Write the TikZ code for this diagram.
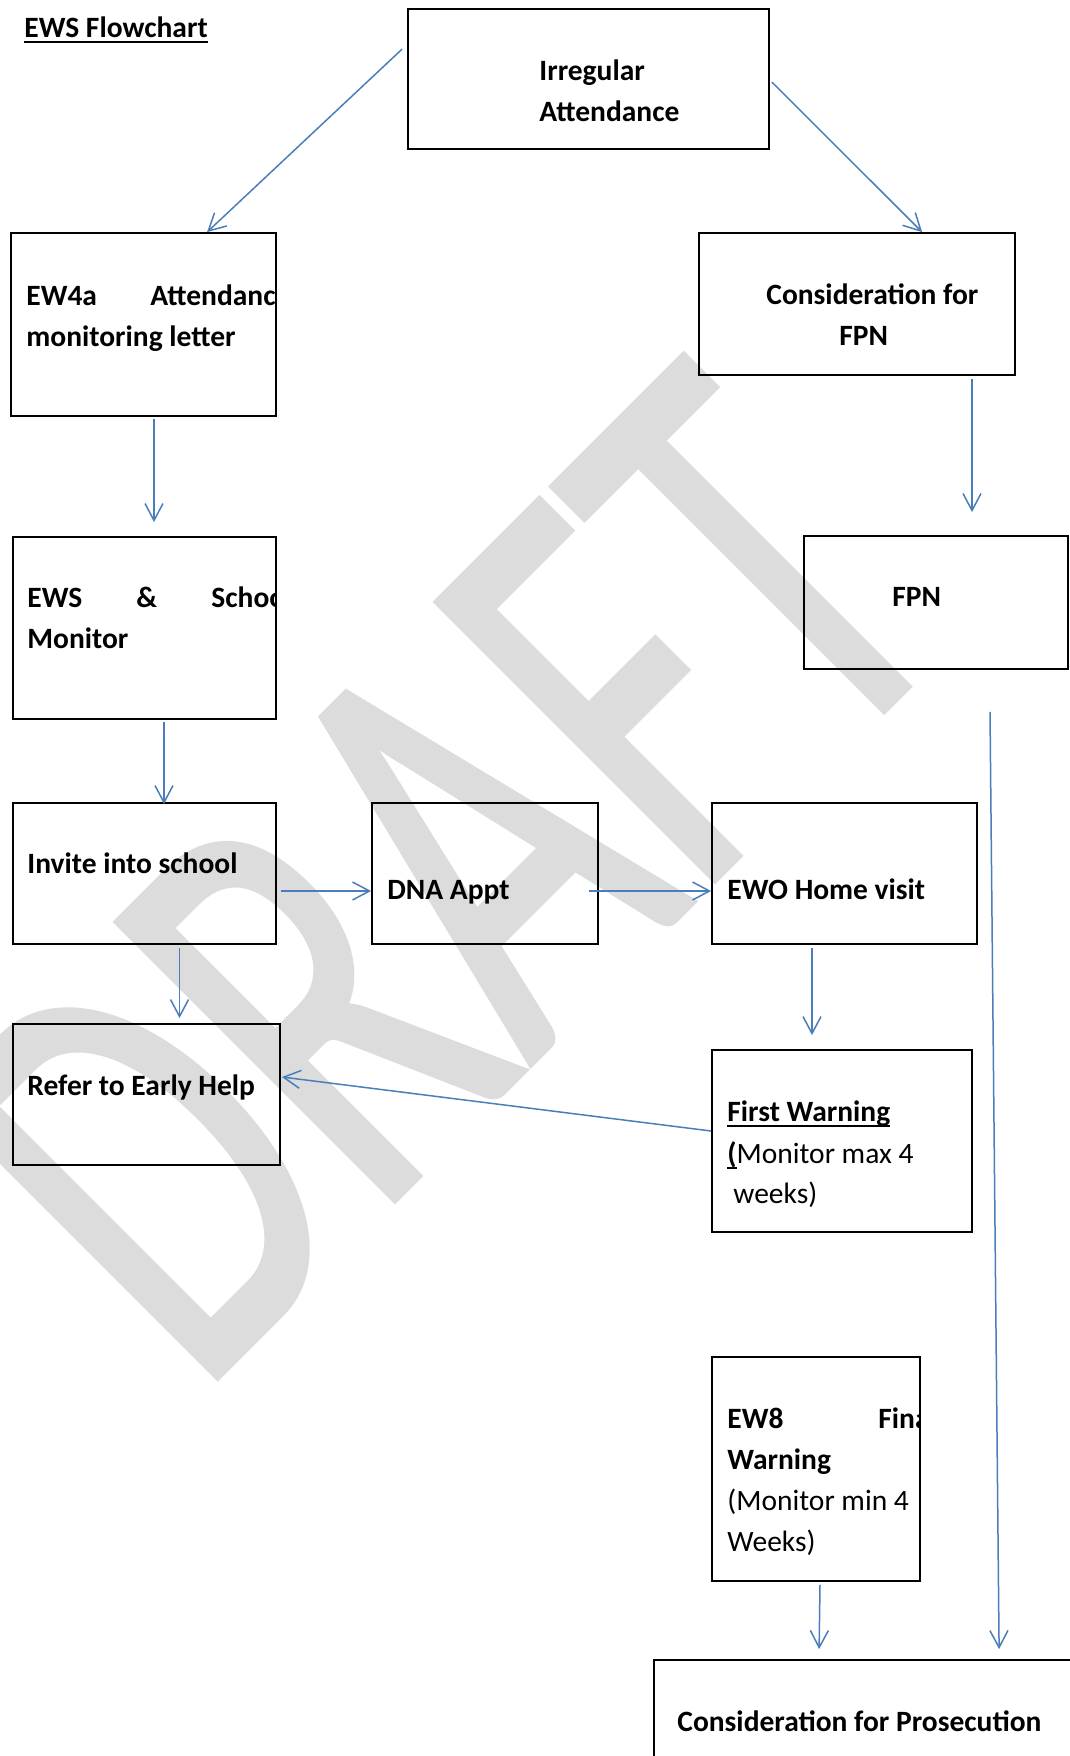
\documentclass[tikz,border=0pt]{standalone}
\usepackage{fontspec}
\setmainfont{Carlito}
\newfontfamily\wmfont[FakeBold=1]{Carlito}
\usetikzlibrary{calc,arrows.meta}
\definecolor{wordblue}{RGB}{74,126,187}
\definecolor{wmgray}{RGB}{220,220,220}
\newcommand{\undl}[1]{\setbox0\hbox{#1}\rlap{\rule[-3pt]{\wd0}{0.9pt}}\box0}
\begin{document}
\begin{tikzpicture}
    [x=0.5pt,y=-0.5pt,%
      box/.style={draw,line width=0.9pt,inner sep=0pt},%
      txt/.style={anchor=base west,inner sep=0pt,yshift=-0.6pt,font=\fontsize{14.75}{17}\selectfont\bfseries},%
      plain/.style={txt,font=\fontsize{14.75}{17}\selectfont},%
      link/.style={draw=wordblue,line width=0.75pt,-{Straight Barb[length=8.5pt,width=9pt]}}]
    \useasboundingbox (0,0) rectangle (1070,1756);
    \clip (0,0) rectangle (1070,1756);
    \fill[white] (0,0) rectangle (1070,1756);
    % watermark
    \node[anchor=base west,inner sep=0pt,text=wmgray,rotate=45,xscale=2.025,yscale=3.065,
          font=\fontsize{100}{100}\wmfont] (wm) at (197,1398) {DRAFT};
    % boxes
    \node[box,minimum width=180.5pt,minimum height=70pt] (irr) at (588.5,79) {};
    \node[box,minimum width=132.5pt,minimum height=91.5pt] (ew4a) at (143.5,324.5) {};
    \node[box,minimum width=158pt,minimum height=71pt] (cfpn) at (857,304) {};
    \node[box,minimum width=131.5pt,minimum height=91pt] (esm) at (144.5,628) {};
    \node[box,minimum width=132pt,minimum height=66.5pt] (fpn) at (936,602.5) {};
    \node[box,minimum width=131.5pt,minimum height=70.5pt] (inv) at (144.5,873.5) {};
    \node[box,minimum width=113pt,minimum height=70.5pt] (dna) at (485,873.5) {};
    \node[box,minimum width=132.5pt,minimum height=70.5pt] (ewo) at (844.5,873.5) {};
    \node[box,minimum width=133.5pt,minimum height=70.5pt] (reh) at (146.5,1094.5) {};
    \node[box,minimum width=130pt,minimum height=91pt] (fw) at (842,1141) {};
    \node[box,minimum width=104pt,minimum height=112pt] (ew8) at (816,1469) {};
    \node[box,minimum width=223pt,minimum height=70pt] (cpro) at (877,1730) {};
    % texts
    \node[txt] (title) at (24,36) {\undl{EWS Flowchart}};
    \node[txt] (irr1) at (539,79) {Irregular};
    \node[txt] (irr2) at (539,120) {Attendance};
    \node[txt] (ew4a1) at (26,304) {EW4a};
    \begin{scope}
      \clip (ew4a.north west) rectangle (ew4a.south east);
      \node[txt] (ew4a2) at (150,304) {Attendance};
    \end{scope}
    \node[txt] (ew4a3) at (26,345) {monitoring letter};
    \node[txt] (cfpn1) at (766,303) {Consideration for};
    \node[txt] (cfpn2) at (839,344) {FPN};
    \node[txt] (esm1) at (27,606) {EWS};
    \node[txt] (esm2) at (136,606) {\&};
    \begin{scope}
      \clip (esm.north west) rectangle (esm.south east);
      \node[txt] (esm3) at (211,606) {School};
    \end{scope}
    \node[txt] (esm4) at (27,647) {Monitor};
    \node[txt] (fpn1) at (892,605) {FPN};
    \node[txt] (inv1) at (27,872) {Invite into school};
    \node[txt] (dna1) at (387,898) {DNA Appt};
    \node[txt] (ewo1) at (727,898) {EWO Home visit};
    \node[txt] (reh1) at (27,1094) {Refer to Early Help};
    \node[txt] (fw1) at (727,1120) {\undl{First Warning}};
    \node[plain] (fw2) at (727,1162) {\undl{\bfseries(}Monitor max 4};
    \node[plain] (fw3) at (733,1202) {weeks)};
    \node[txt] (ew8a) at (727,1427) {EW8};
    \begin{scope}
      \clip (ew8.north west) rectangle (ew8.south east);
      \node[txt] (ew8b) at (878,1427) {Final};
    \end{scope}
    \node[txt] (ew8c) at (727,1468) {Warning};
    \node[plain] (ew8d) at (727,1509) {(Monitor min 4};
    \node[plain] (ew8e) at (727,1550) {Weeks)};
    \node[txt] (cpro1) at (677,1730) {Consideration for Prosecution};
    % connectors
    \draw[link] ($(irr.north west)+(-5,41)$) -- ($(ew4a.north west)+(197,0)$);
    \draw[link] ($(irr.north east)+(2,74)$) -- ($(cfpn.north west)+(224,0)$);
    \draw[link] ($(ew4a.south)+(10.5,2)$) -- ($(esm.north)+(9.5,-14)$);
    \draw[link] ($(cfpn.south)+(115,3)$) -- ($(fpn.north)+(36,-23)$);
    \draw[link] ($(esm.south)+(19.5,2)$) -- ($(inv.north)+(19.5,2)$);
    \draw[link] ($(fpn.south)+(54,42)$) -- ($(cpro.north west)+(346,-10)$);
    \draw[link] ($(inv.east)+(4,17.5)$) -- ($(dna.west)+(0,17.5)$);
    \draw[link] ($(dna.east)+(-10,17.5)$) -- ($(ewo.west)+(0,17.5)$);
    \draw[link] ($(inv.south)+(35,3)$) -- ($(reh.north)+(33,-5)$);
    \draw[link] ($(ewo.south)+(-32.5,3)$) -- ($(fw.north)+(-30,-14)$);
    \draw[link] ($(fw.west)+(0,-10)$) -- ($(reh.east)+(1,-17.5)$);
    \draw[link] ($(ew8.south)+(4,3)$) -- ($(cpro.north west)+(166,-10)$);
\end{tikzpicture}
\end{document}
